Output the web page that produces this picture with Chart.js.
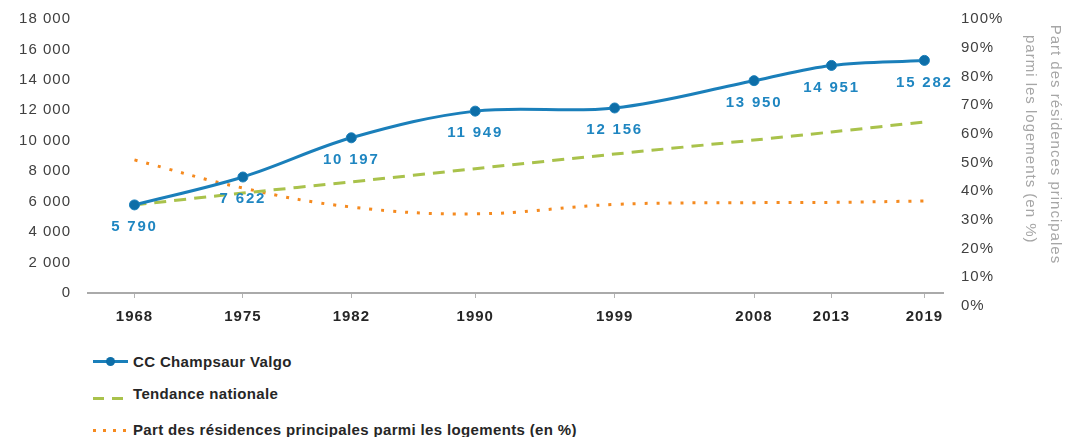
<!DOCTYPE html>
<html>
<head>
<meta charset="utf-8">
<script src="https://cdn.jsdelivr.net/npm/chart.js@4/dist/chart.umd.min.js"></script>
<style>
    html, body { margin: 0; padding: 0; background: #fff; }
    body { position: relative; width: 1068px; height: 437px; overflow: hidden; font-family: "Liberation Sans", Arial, sans-serif; }
    .chart-box { position: absolute; left: 0; top: 0; width: 1068px; height: 340px; }
    .lg-row { position: absolute; left: 93px; height: 20px; display: flex; align-items: center; }
    .lg-row span.txt { position: absolute; left: 40px; white-space: nowrap; font-weight: bold; font-size: 15px; letter-spacing: 0.35px; color: #262626; }
    .lg-sample { position: absolute; left: 0; width: 35px; }
</style>
</head>
<body>
<div class="chart-box"><canvas id="chart"></canvas></div>

<div class="lg-row" style="top:351px">
    <div class="lg-sample" style="top:9px;height:3px;background:#1a7fba"></div>
    <div class="lg-sample" style="top:6px;left:13px;width:9px;height:9px;border-radius:50%;background:#0d6ea8"></div>
    <span class="txt">CC Champsaur Valgo</span>
</div>
<div class="lg-row" style="top:383px">
    <div class="lg-sample" style="top:14px;width:11px;height:3px;background:#a9c24b"></div>
    <div class="lg-sample" style="top:14px;left:19px;width:11px;height:3px;background:#a9c24b"></div>
    <span class="txt">Tendance nationale</span>
</div>
<div class="lg-row" style="top:419px">
    <div class="lg-sample" style="top:10px;height:3px;background:repeating-linear-gradient(to right,#f58a1f 0 3px,transparent 3px 10px)"></div>
    <span class="txt">Part des résidences principales parmi les logements (en %)</span>
</div>

<script>
// données
var years = [1968, 1975, 1982, 1990, 1999, 2008, 2013, 2019];
var valgo = [5790, 7622, 10197, 11949, 12156, 13950, 14951, 15282];
var tendance = [5790, 6570, 7300, 8170, 9130, 10050, 10580, 11240];
var partRP = [50.9, 41.1, 34.5, 32.1, 35.4, 36.0, 36.1, 36.6];
var leftTicks = [0, 2000, 4000, 6000, 8000, 10000, 12000, 14000, 16000, 18000];

var FONT = '"Liberation Sans", Arial, sans-serif';

function frNumber(v) {
    return String(v).replace(/\B(?=(\d{3})+(?!\d))/g, ' ');
}
function toPoints(values) {
    return years.map(function (yr, i) { return { x: yr, y: values[i] }; });
}

// espacement des lettres comme sur l'original
var letterSpacing = {
    id: 'letterSpacing',
    beforeUpdate: function (chart) { chart.ctx.letterSpacing = '1px'; },
    beforeDraw: function (chart) { chart.ctx.letterSpacing = '1px'; }
};

// étiquettes de valeurs sous les points bleus
var valueLabels = {
    id: 'valueLabels',
    afterDatasetsDraw: function (chart) {
        var ctx = chart.ctx;
        var meta = chart.getDatasetMeta(0);
        ctx.save();
        ctx.font = 'bold 15px ' + FONT;
        ctx.letterSpacing = '1.8px';
        ctx.fillStyle = '#1f86c1';
        ctx.textAlign = 'center';
        ctx.textBaseline = 'middle';
        meta.data.forEach(function (pt, i) {
            ctx.fillText(frNumber(valgo[i]), pt.x, pt.y + 22);
        });
        ctx.restore();
    }
};

Chart.defaults.font.family = FONT;

new Chart(document.getElementById('chart'), {
    type: 'line',
    data: {
        datasets: [
            {
                label: 'CC Champsaur Valgo',
                data: toPoints(valgo),
                yAxisID: 'y',
                borderColor: '#1a7fba',
                borderWidth: 3,
                tension: 0.35,
                pointRadius: 5,
                pointBackgroundColor: '#0d6ea8',
                pointBorderColor: '#1a7fba',
                pointBorderWidth: 1,
                fill: false
            },
            {
                label: 'Tendance nationale',
                data: toPoints(tendance),
                yAxisID: 'y',
                borderColor: '#a9c24b',
                borderWidth: 3,
                borderDash: [12, 8],
                tension: 0.3,
                pointRadius: 0,
                fill: false
            },
            {
                label: 'Part des résidences principales parmi les logements (en %)',
                data: toPoints(partRP),
                yAxisID: 'y1',
                borderColor: '#f58a1f',
                borderWidth: 3,
                borderDash: [3, 9],
                borderCapStyle: 'butt',
                tension: 0.4,
                pointRadius: 0,
                fill: false
            }
        ]
    },
    options: {
        responsive: true,
        maintainAspectRatio: false,
        animation: false,
        layout: { padding: { top: 19, bottom: 34, left: 0, right: 0 } },
        plugins: {
            legend: { display: false },
            tooltip: { enabled: false }
        },
        scales: {
            x: {
                type: 'linear',
                position: { y: 0 },
                min: 1965,
                max: 2020.2,
                afterBuildTicks: function (scale) {
                    scale.ticks = years.map(function (v) { return { value: v }; });
                },
                grid: { display: true, drawOnChartArea: false, drawTicks: true, tickLength: 4, color: '#b3b3b3' },
                border: { display: true, color: '#aaaaaa', width: 2 },
                ticks: {
                    padding: 11,
                    maxRotation: 0,
                    color: '#262626',
                    font: { size: 15, weight: 'bold' },
                    callback: function (v) { return String(v); }
                }
            },
            y: {
                position: 'left',
                min: -850,
                max: 18000,
                afterBuildTicks: function (scale) {
                    scale.ticks = leftTicks.map(function (v) { return { value: v }; });
                },
                afterFit: function (scale) { scale.width = 88; },
                // petits traits invisibles pour décaler les libellés sans toucher à la zone du graphique
                grid: { display: true, drawOnChartArea: false, drawTicks: true, tickLength: 17, color: 'rgba(0,0,0,0)' },
                border: { display: false },
                ticks: {
                    padding: 0,
                    color: '#404040',
                    font: { size: 15 },
                    callback: function (v) { return frNumber(v); }
                }
            },
            y1: {
                position: 'right',
                min: 0,
                max: 100,
                afterFit: function (scale) { scale.width = 125; },
                grid: { display: true, drawOnChartArea: false, drawTicks: true, tickLength: 18, color: 'rgba(0,0,0,0)' },
                border: { display: false },
                ticks: {
                    stepSize: 10,
                    padding: 0,
                    color: '#404040',
                    font: { size: 15 },
                    callback: function (v) { return v + '%'; }
                },
                title: {
                    display: true,
                    text: ['Part des résidences principales       ', 'parmi les logements (en %)         '],
                    color: '#a6a6a6',
                    font: { size: 15, lineHeight: 1.667 },
                    padding: { top: 0, bottom: 0 }
                }
            }
        }
    },
    plugins: [letterSpacing, valueLabels]
});
</script>
</body>
</html>
